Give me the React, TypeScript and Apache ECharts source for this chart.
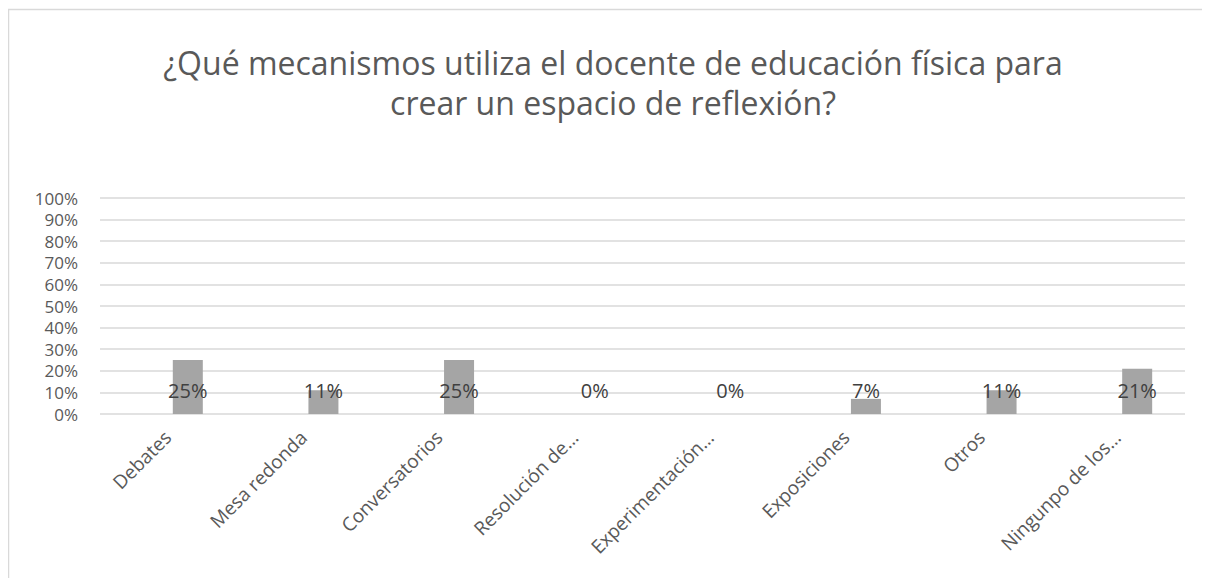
import React, { useEffect, useRef } from "react";
import * as echarts from "echarts";

const categories = [
  "Debates",
  "Mesa redonda",
  "Conversatorios",
  "Resolución de…",
  "Experimentación…",
  "Exposiciones",
  "Otros",
  "Ningunpo de los…",
];
const percentValues = [25, 11, 25, 0, 0, 7, 11, 21];
const hiddenValues = [0, 0, 0, 0, 0, 0, 0, 0];
const yTicks = { min: 0, max: 100, interval: 10 };
const titleText = "¿Qué mecanismos utiliza el docente de educación física para\ncrear un espacio de reflexión?";

const FONT = "'Open Sans', 'Noto Sans', sans-serif";
const TEXT = "#595959";

export default function App() {
  const ref = useRef<HTMLDivElement>(null);
  useEffect(() => {
    if (!ref.current) return;
    const chart = echarts.init(ref.current, null, { renderer: "svg" });
    chart.setOption({
      animation: false,
      backgroundColor: "#ffffff",
      textStyle: { fontFamily: FONT },
      title: {
        text: titleText,
        left: 600,
        top: 29,
        textAlign: "center",
        textStyle: {
          fontFamily: FONT,
          fontSize: 32,
          fontWeight: "normal",
          color: TEXT,
          lineHeight: 40,
        },
      },
      graphic: [
        {
          type: "rect",
          shape: { x: 0.5, y: 1.5, width: 1400, height: 800 },
          style: { fill: "none", stroke: "#d9d9d9", lineWidth: 1.5 },
          silent: true,
          z: 100,
        },
      ],
      grid: { left: 92, right: 25, top: 190, bottom: 164, containLabel: false },
      xAxis: {
        type: "category",
        data: categories,
        axisLine: { show: false },
        axisTick: { show: false },
        axisLabel: {
          rotate: 45,
          interval: 0,
          margin: 20,
          fontSize: 19,
          color: TEXT,
          fontFamily: FONT,
        },
      },
      yAxis: {
        type: "value",
        min: yTicks.min,
        max: yTicks.max,
        interval: yTicks.interval,
        axisLine: { show: false },
        axisTick: { show: false },
        splitLine: { lineStyle: { color: "#d9d9d9", width: 1.5 } },
        axisLabel: {
          formatter: (v: number) => `${v}%`,
          fontSize: 17,
          color: TEXT,
          fontFamily: FONT,
          margin: 22,
          lineHeight: 20,
        },
      },
      series: [
        {
          type: "bar",
          data: hiddenValues,
          barWidth: 30,
          barGap: "33.3%",
          itemStyle: { color: "transparent" },
          silent: true,
        },
        {
          type: "bar",
          data: percentValues,
          barWidth: 30,
          barGap: "33.3%",
          itemStyle: { color: "#a5a5a5" },
          label: {
            show: true,
            position: "insideBottom",
            distance: 14,
            formatter: (p: any) => `${p.value}%`,
            fontSize: 20,
            color: "#404040",
            fontFamily: FONT,
          },
        },
      ],
    });
    return () => chart.dispose();
  }, []);
  return <div ref={ref} style={{ width: 1202, height: 570 }} />;
}
